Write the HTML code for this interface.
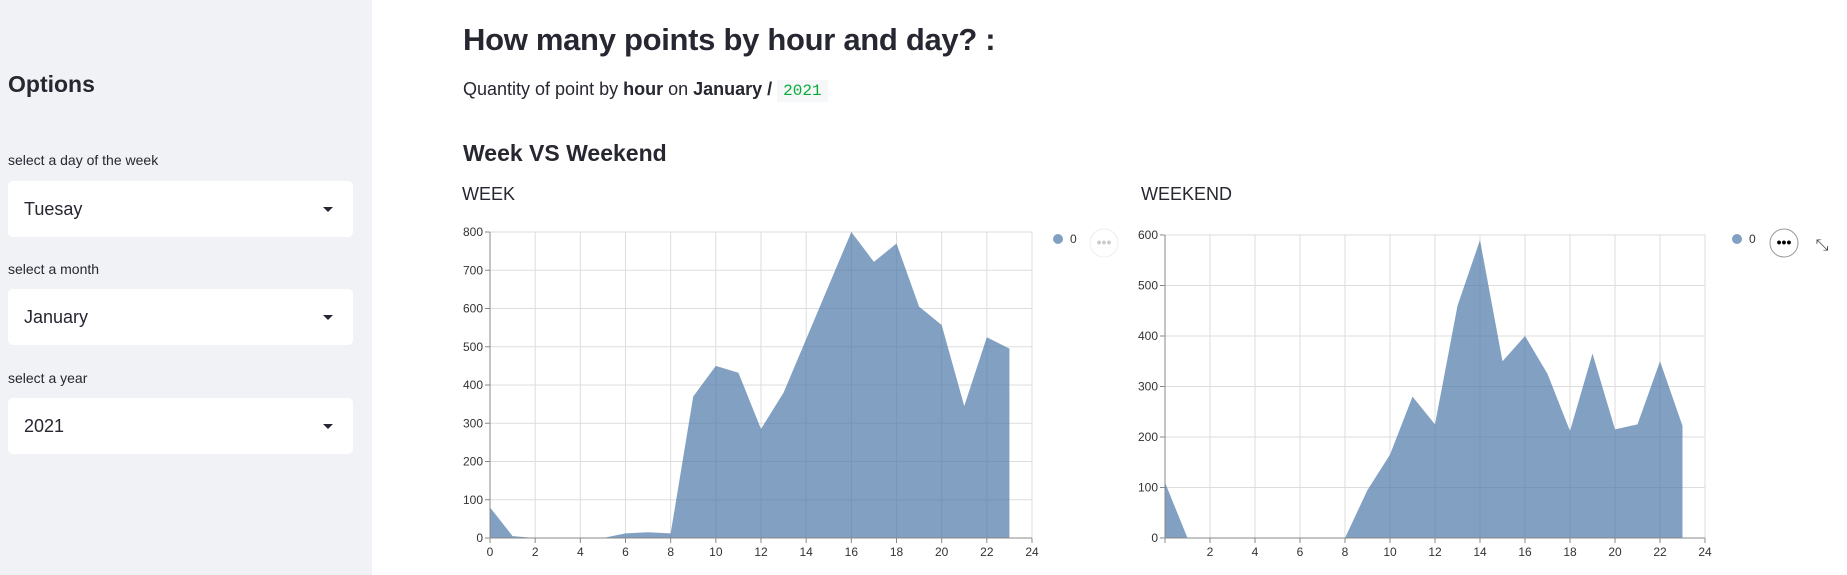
<!DOCTYPE html>
<html><head><meta charset="utf-8"><style>
body{margin:0;width:1847px;height:575px;overflow:hidden;background:#fff;font-family:"Liberation Sans",sans-serif;color:#262730;position:relative}
.sb{position:absolute;left:0;top:0;width:372px;height:575px;background:#f0f2f6}
.lbl{position:absolute;left:8px;font-size:14px;color:#262730}
.sel{position:absolute;left:8px;width:345px;height:56px;background:#fff;border-radius:5px;font-size:18px;line-height:56px;text-indent:16px}
.sel:after{content:"";position:absolute;right:20px;top:26px;border-left:5px solid transparent;border-right:5px solid transparent;border-top:5px solid #262730}
.t{position:absolute;white-space:nowrap}
svg{position:absolute;left:0;top:0}
</style></head><body>
<div class="sb">
<div class="t" style="left:8px;top:71px;font-size:23px;font-weight:bold">Options</div>
<div class="lbl" style="top:152px">select a day of the week</div>
<div class="sel" style="top:181px">Tuesay</div>
<div class="lbl" style="top:261px">select a month</div>
<div class="sel" style="top:289px">January</div>
<div class="lbl" style="top:370px">select a year</div>
<div class="sel" style="top:398px">2021</div>
</div>
<div class="t" style="left:463px;top:22px;font-size:31px;font-weight:bold;letter-spacing:-0.3px">How many points by hour and day? :</div>
<div class="t" style="left:463px;top:79px;font-size:18px">Quantity of point by <b>hour</b> on <b>January / </b><span style="font-family:'Liberation Mono',monospace;color:#09ab3b;background:#f6f7f9;padding:2px 6px;font-size:16px">2021</span></div>
<div class="t" style="left:463px;top:140px;font-size:23px;font-weight:bold">Week VS Weekend</div>
<div class="t" style="left:462px;top:184px;font-size:18px">WEEK</div>
<div class="t" style="left:1141px;top:184px;font-size:18px">WEEKEND</div>
<svg id="s" width="1847" height="575"></svg>
<script>
const hours=[0,1,2,3,4,5,6,7,8,9,10,11,12,13,14,15,16,17,18,19,20,21,22,23];
const weekVals=[80,5,0,0,0,0,12,15,12,370,450,432,285,380,520,660,800,722,770,605,557,345,525,495];
const weekendVals=[110,0,0,0,0,0,0,0,0,95,165,280,225,460,590,350,400,325,212,365,215,225,350,222];
const xTicks=[0,2,4,6,8,10,12,14,16,18,20,22,24];
const weekYTicks=[0,100,200,300,400,500,600,700,800];
const weekendYTicks=[0,100,200,300,400,500,600];
const NS="http://www.w3.org/2000/svg";
const svg=document.getElementById('s');
function mk(t,a){const e=document.createElementNS(NS,t);for(const k in a)e.setAttribute(k,a[k]);svg.appendChild(e);return e;}
function chart(name,L,R,T,B,ymax,yt,vals,skip0){
 const X=v=>L+(R-L)*v/24, Y=v=>B-(B-T)*v/ymax;
 xTicks.forEach(t=>{const l=mk('line',{x1:X(t),x2:X(t),y1:T,y2:B,stroke:'#ddd'});
  mk('line',{x1:X(t),x2:X(t),y1:B,y2:B+5,stroke:'#888'});
  if(!(skip0&&t===0)){const tx=mk('text',{x:X(t),y:B+18,'text-anchor':'middle','font-size':12,fill:'#333'});tx.textContent=t;}});
 yt.forEach(t=>{const l=mk('line',{x1:L,x2:R,y1:Y(t),y2:Y(t),stroke:'#ddd'});
  mk('line',{x1:L-5,x2:L,y1:Y(t),y2:Y(t),stroke:'#888'});
  const tx=mk('text',{x:L-7,y:Y(t)+4,'text-anchor':'end','font-size':12,fill:'#333'});tx.textContent=t;});
 mk('rect',{x:L,y:T,width:R-L,height:B-T,fill:'none',stroke:'#ddd'});
 let d='M'+X(hours[0])+','+Y(0);
 hours.forEach((h,i)=>d+='L'+X(h)+','+Y(vals[i]));
 d+='L'+X(hours[hours.length-1])+','+Y(0)+'Z';
 const p=mk('path',{d:d,fill:'#4c78a8','fill-opacity':0.7});
 
 
 mk('line',{x1:L,x2:L,y1:T,y2:B,stroke:'#888'});
 mk('line',{x1:L,x2:R,y1:B,y2:B,stroke:'#888'});
}
chart('week',490,1032,232,538,800,weekYTicks,weekVals,false);
chart('weekend',1165,1705,235,538,600,weekendYTicks,weekendVals,true);
function legend(x,name){const c=mk('circle',{cx:x,cy:239,r:5,fill:'#4c78a8','fill-opacity':0.7});
 const t=mk('text',{x:x+12,y:243,'font-size':12,fill:'#333'});t.textContent='0';}
legend(1058,'week');legend(1737,'weekend');
const m1=mk('circle',{cx:1104,cy:243,r:14,fill:'#fff',stroke:'#eee'});


const m1t=mk('text',{x:1104,y:247,'text-anchor':'middle','font-size':14,fill:'#ccc','font-weight':'bold'});m1t.textContent='•••';
const m2=mk('circle',{cx:1784,cy:243,r:14,fill:'#fff',stroke:'#999'});


const m2t=mk('text',{x:1784,y:247,'text-anchor':'middle','font-size':14,fill:'#000','font-weight':'bold'});m2t.textContent='•••';
const ex=mk('text',{x:1822,y:250,'text-anchor':'middle','font-size':16,fill:'#444'});ex.textContent='⤡';


</script>
</body></html>
